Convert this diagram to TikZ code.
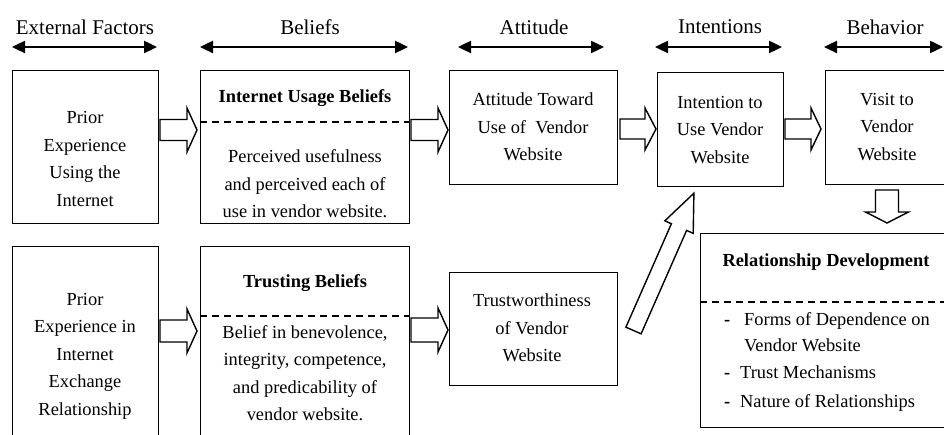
\documentclass[tikz,border=0pt]{standalone}
\usepackage{fontspec}
\setmainfont{Liberation Serif}
\usetikzlibrary{arrows.meta,calc}
\begin{document}
\begin{tikzpicture}[x=1pt,y=-1pt,
  box/.style={draw, line width=1.3pt, inner sep=0pt, anchor=north west},
  txt/.style={font=\fontsize{18.4}{27.5}\selectfont, align=center, inner sep=0pt},
  ttl/.style={font=\fontsize{18.4}{22}\selectfont\bfseries, inner sep=0pt},
  itm/.style={font=\fontsize{18.4}{22}\selectfont, inner sep=0pt, anchor=base west},
  hdr/.style={font=\fontsize{21}{24}\selectfont, inner sep=0pt},
  harrow/.style={line width=2.4pt, {Triangle[length=13pt,width=12pt]}-{Triangle[length=13pt,width=12pt]}},
  dsh/.style={line width=1.2pt, dash pattern=on 7pt off 5pt},
  arrowline/.style={draw, line width=1.4pt, fill=white, line join=miter},
  pics/barrow/.style args={#1/#2/#3/#4}{code={
    \draw[arrowline] (0,-#2) -- ({#1-#4},-#2) -- ({#1-#4},-#3) -- (#1,0) -- ({#1-#4},#3) -- ({#1-#4},#2) -- (0,#2) -- cycle;
  }}
]
\useasboundingbox (0,0) rectangle (944,435);
\clip (0,0) rectangle (944,435);

% headers
\node[hdr] (h1) at (85,27) {External Factors};
\node[hdr] (h2) at (310,27) {Beliefs};
\node[hdr] (h3) at (534,27) {Attitude};
\node[hdr] (h4) at (720,27) {Intentions};
\node[hdr] (h5) at (885,27) {Behavior};
\coordinate (h1a) at (12,47);  \coordinate (h1b) at (157,47);
\coordinate (h2a) at (200,47); \coordinate (h2b) at (408,47);
\coordinate (h3a) at (458,47); \coordinate (h3b) at (604,47);
\coordinate (h4a) at (655,47); \coordinate (h4b) at (782,47);
\coordinate (h5a) at (824,47); \coordinate (h5b) at (943,47);
\draw[harrow] (h1a) -- (h1b);
\draw[harrow] (h2a) -- (h2b);
\draw[harrow] (h3a) -- (h3b);
\draw[harrow] (h4a) -- (h4b);
\draw[harrow] (h5a) -- (h5b);

% boxes
\node[box, minimum width=146pt, minimum height=153pt] (b1) at (12,70) {};
\node[box, minimum width=209pt, minimum height=153pt] (b2) at (200,70) {};
\node[box, minimum width=168pt, minimum height=114pt] (b3) at (449,70) {};
\node[box, minimum width=126pt, minimum height=114pt] (b4) at (657,72) {};
\node[box, minimum width=130pt, minimum height=114pt] (b5) at (825,70) {};
\node[box, minimum width=146pt, minimum height=200pt] (b6) at (12,246) {};
\node[box, minimum width=209pt, minimum height=200pt] (b7) at (200,246) {};
\node[box, minimum width=168pt, minimum height=113pt] (b8) at (449,272) {};
\node[box, minimum width=260pt, minimum height=194pt] (b9) at (700,233) {};

% dashed separators
\draw[dsh] (b2.west |- 0,122) -- (b2.east |- 0,122);
\draw[dsh] (b7.west |- 0,316) -- (b7.east |- 0,316);
\draw[dsh] (b9.west |- 0,302) -- (b9.east |- 0,302);

% texts
\node[txt] (t1) at (85,159) {Prior\\Experience\\Using the\\Internet};
\node[ttl] (t2h) at (305,98) {Internet Usage Beliefs};
\node[txt] (t2) at (305,184) {Perceived usefulness\\and perceived each of\\use in vendor website.};
\node[txt] (t3) at (533,127) {Attitude Toward\\Use of~ Vendor\\Website};
\node[txt] (t4) at (720,130) {Intention to\\Use Vendor\\Website};
\node[txt] (t5) at (887,127) {Visit to\\Vendor\\Website};
\node[txt] (t6) at (85,356) {Prior\\Experience in\\Internet\\Exchange\\Relationship};
\node[ttl] (t7h) at (305,283) {Trusting Beliefs};
\node[txt] (t7) at (305,373) {Belief in benevolence,\\integrity, competence,\\and predicability of\\vendor website.};
\node[txt] (t8) at (532,328) {Trustworthiness\\of Vendor\\Website};
\node[ttl] (t9h) at (826,262) {Relationship Development};
\node[itm] (d1) at (724,325.5) {\textbf{-}};
\node[itm] (i1) at (744,325.5) {Forms of Dependence on};
\node[itm] (i1b) at (744,351.5) {Vendor Website};
\node[itm] (d2) at (724,378.5) {\textbf{-}};
\node[itm] (i2) at (740,378.5) {Trust Mechanisms};
\node[itm] (d3) at (724,407.5) {\textbf{-}};
\node[itm] (i3) at (740,407.5) {Nature of Relationships};

% block arrows
\pic at (160,130) {barrow=37/10.5/22/10};
\pic at (411,130) {barrow=37/10.5/22/10};
\pic at (620,129) {barrow=36/10/21/11};
\pic at (785,129) {barrow=36/10/21/10};
\pic at (160,331) {barrow=37/11/22/10};
\pic at (411,330) {barrow=37/12/22/10};
\pic[rotate=-90] at (887,190) {barrow=33/11.5/21.5/11};
\pic[rotate=66.25] at (633.5,330.5) {barrow=150/8.3/15.5/37};
\end{tikzpicture}
\end{document}
